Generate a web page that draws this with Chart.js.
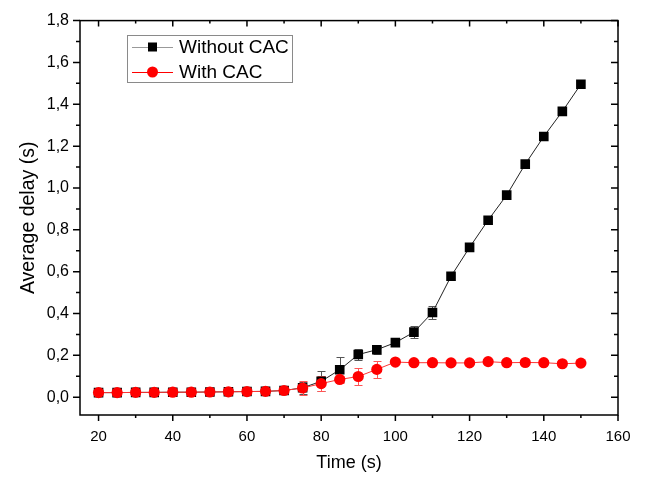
<!DOCTYPE html>
<html>
<head>
<meta charset="utf-8">
<title>Average delay</title>
<script src="https://cdn.jsdelivr.net/npm/chart.js"></script>
<style>
  html, body { margin: 0; padding: 0; background: #fff; }
  #wrap { width: 652px; height: 478px; }
</style>
</head>
<body>
<div id="wrap"><canvas id="delayChart"></canvas></div>
<script>
// data
const times = [20, 25, 30, 35, 40, 45, 50, 55, 60, 65, 70, 75, 80, 85, 90, 95, 100, 105, 110, 115, 120, 125, 130, 135, 140, 145, 150];
const withoutCac = [0.022, 0.022, 0.023, 0.023, 0.024, 0.024, 0.025, 0.026, 0.027, 0.028, 0.032, 0.045, 0.076, 0.131, 0.204, 0.227, 0.261, 0.311, 0.405, 0.578, 0.716, 0.846, 0.966, 1.114, 1.246, 1.366, 1.496];
const withoutCacErr = [0, 0, 0, 0, 0, 0, 0, 0, 0, 0, 0.006, 0.03, 0.047, 0.06, 0.025, 0.02, 0.008, 0.03, 0.03, 0, 0, 0, 0, 0, 0, 0, 0];
const withCac = [0.022, 0.022, 0.023, 0.023, 0.024, 0.024, 0.025, 0.026, 0.027, 0.028, 0.032, 0.044, 0.065, 0.085, 0.099, 0.133, 0.168, 0.165, 0.165, 0.164, 0.164, 0.170, 0.165, 0.166, 0.165, 0.160, 0.163];
const withCacErr = [0, 0, 0, 0, 0, 0, 0, 0, 0, 0, 0.004, 0.033, 0.035, 0.015, 0.042, 0.04, 0.006, 0, 0, 0, 0, 0, 0, 0, 0, 0, 0];

const seriesNames = ['Without CAC', 'With CAC'];
const fontFam = '"Liberation Sans", Arial, sans-serif';

const toPoints = vals => times.map((t, i) => ({ x: t, y: vals[i] }));
const comma = v => v.toFixed(1).replace('.', ',');

// error bars drawn behind the markers
const errorBars = {
    id: 'errorBars',
    beforeDatasetsDraw(chart) {
        const { ctx, scales: { x, y } } = chart;
        chart.data.datasets.forEach(ds => {
            if (!ds.errors) return;
            ctx.save();
            ctx.strokeStyle = ds.errorColor;
            ctx.lineWidth = 1;
            ds.data.forEach((p, i) => {
                const e = ds.errors[i];
                if (!e) return;
                const px = Math.round(x.getPixelForValue(p.x)) + 0.5;
                const top = Math.round(y.getPixelForValue(p.y + e)) + 0.5;
                const bot = Math.round(y.getPixelForValue(p.y - e)) + 0.5;
                ctx.beginPath();
                ctx.moveTo(px, top); ctx.lineTo(px, bot);
                ctx.moveTo(px - 4, top); ctx.lineTo(px + 4, top);
                ctx.moveTo(px - 4, bot); ctx.lineTo(px + 4, bot);
                ctx.stroke();
            });
            ctx.restore();
        });
    }
};

// box frame with outward ticks (left/bottom) and inward ticks (top/right)
const frame = {
    id: 'frame',
    afterDraw(chart) {
        const { ctx, chartArea: a, scales: { x, y } } = chart;
        ctx.save();
        ctx.strokeStyle = '#000';
        ctx.lineWidth = 1.5;
        ctx.strokeRect(a.left, a.top, a.right - a.left, a.bottom - a.top);

        const xs = x.ticks.map(t => t.value);
        const ys = y.ticks.map(t => t.value);
        const xStep = xs[1] - xs[0], yStep = ys[1] - ys[0];
        ctx.beginPath();
        xs.forEach(v => {
            [[v, 6], [v + xStep / 2, 3]].forEach(([val, len]) => {
                if (val > x.max) return;
                const px = x.getPixelForValue(val);
                ctx.moveTo(px, a.bottom); ctx.lineTo(px, a.bottom + len);
                ctx.moveTo(px, a.top); ctx.lineTo(px, a.top + len);
            });
        });
        ys.forEach(v => {
            [[v, 7], [v + yStep / 2, 4], [v - yStep / 2, 4]].forEach(([val, len]) => {
                if (val > y.max || val < y.min) return;
                const py = y.getPixelForValue(val);
                ctx.moveTo(a.left, py); ctx.lineTo(a.left - len, py);
                ctx.moveTo(a.right, py); ctx.lineTo(a.right - len, py);
            });
        });
        ctx.stroke();
        ctx.restore();
    }
};

// legend box placed inside the plot
const insideLegend = {
    id: 'insideLegend',
    afterDraw(chart) {
        const { ctx } = chart;
        const box = { x: 127.5, y: 35.5, w: 165, h: 47 };
        ctx.save();
        ctx.fillStyle = '#fff';
        ctx.fillRect(box.x, box.y, box.w, box.h);
        ctx.strokeStyle = '#8a8a8a';
        ctx.lineWidth = 1;
        ctx.strokeRect(box.x, box.y, box.w, box.h);
        chart.data.datasets.forEach((ds, i) => {
            const cy = 47 + i * 25;
            ctx.strokeStyle = ds.legendLine;
            ctx.lineWidth = 1;
            ctx.beginPath();
            ctx.moveTo(132, cy + 0.5); ctx.lineTo(173, cy + 0.5);
            ctx.stroke();
            ctx.fillStyle = ds.pointBackgroundColor;
            if (ds.pointStyle === 'rect') {
                ctx.fillRect(148, cy - 4.5, 9, 9);
            } else {
                ctx.beginPath();
                ctx.arc(152.5, cy, 5.5, 0, Math.PI * 2);
                ctx.fill();
            }
            ctx.fillStyle = '#000';
            ctx.font = '19px ' + fontFam;
            ctx.textBaseline = 'middle';
            ctx.fillText(ds.label, 179, cy + 1);
        });
        ctx.restore();
    }
};

new Chart(document.getElementById('delayChart'), {
    type: 'line',
    data: {
        datasets: [
            {
                label: seriesNames[0],
                data: toPoints(withoutCac),
                errors: withoutCacErr,
                errorColor: '#555',
                legendLine: '#999',
                borderColor: '#222',
                borderWidth: 1,
                pointStyle: 'rect',
                pointRadius: 6.8,
                pointBorderWidth: 0,
                pointBackgroundColor: '#000',
                order: 2
            },
            {
                label: seriesNames[1],
                data: toPoints(withCac),
                errors: withCacErr,
                errorColor: '#f55',
                legendLine: '#f00',
                borderColor: '#f33',
                borderWidth: 1,
                pointStyle: 'circle',
                pointRadius: 5.6,
                pointBorderWidth: 0,
                pointBackgroundColor: '#f00',
                order: 1
            }
        ]
    },
    options: {
        responsive: true,
        maintainAspectRatio: false,
        animation: false,
        layout: { padding: { left: 0, top: 15, right: 34, bottom: 0 } },
        plugins: { legend: { display: false }, tooltip: { enabled: false } },
        scales: {
            x: {
                type: 'linear',
                min: 15,
                max: 160,
                afterFit: s => { s.height = 63; },
                grid: { display: false, drawTicks: false },
                border: { display: false },
                ticks: { stepSize: 20, includeBounds: false, padding: 13, color: '#000', font: { family: fontFam, size: 15 } },
                title: { display: true, text: 'Time (s)', color: '#000', font: { family: fontFam, size: 18 }, padding: { top: 0, bottom: 4 } }
            },
            y: {
                type: 'linear',
                min: -0.085,
                max: 1.8,
                afterFit: s => { s.width = 80; },
                grid: { display: false, drawTicks: false },
                border: { display: false },
                ticks: { stepSize: 0.2, includeBounds: false, padding: 11, color: '#000', font: { family: fontFam, size: 16 }, callback: v => comma(v) },
                title: { display: true, text: 'Average delay (s)', color: '#000', font: { family: fontFam, size: 19.5 }, padding: { top: 17, bottom: 0 } }
            }
        }
    },
    plugins: [errorBars, frame, insideLegend]
});
</script>
</body>
</html>
